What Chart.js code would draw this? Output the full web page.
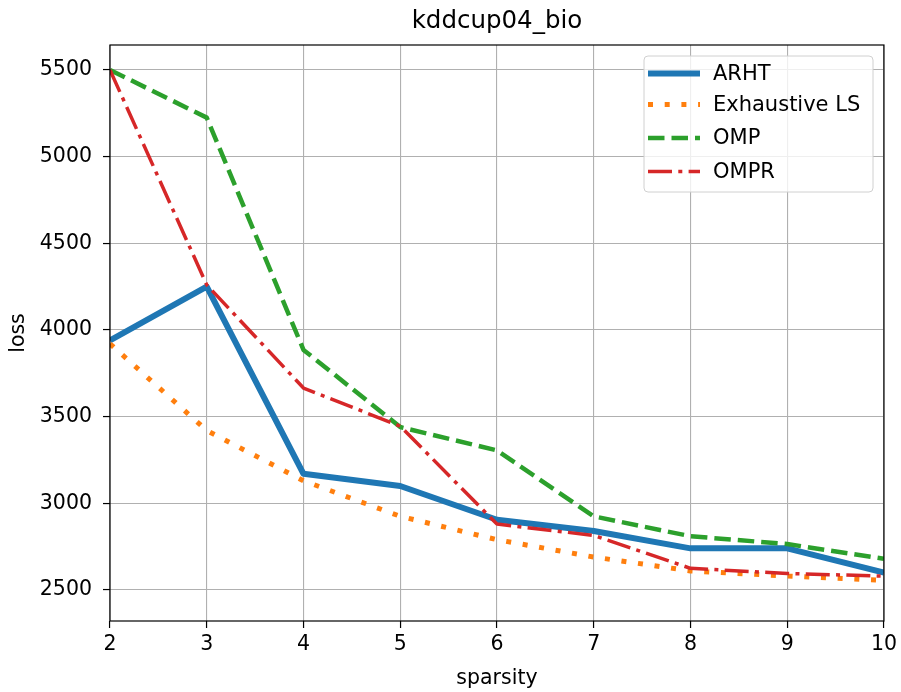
<!DOCTYPE html>
<html>
<head>
<meta charset="utf-8">
<script src="https://cdn.jsdelivr.net/npm/chart.js@4/dist/chart.umd.min.js"></script>
<style>
  html, body { margin: 0; padding: 0; background: #fff; }
  #wrap { width: 901px; height: 692px; }
</style>
</head>
<body>
<div id="wrap"><canvas id="c" width="901" height="692"></canvas></div>
<script>
// ---- data ----
const chartTitle = "kddcup04_bio";
const xLabel = "sparsity";
const yLabel = "loss";
const sparsity = [2, 3, 4, 5, 6, 7, 8, 9, 10];
const seriesNames = ["ARHT", "Exhaustive LS", "OMP", "OMPR"];
const arht       = [3940, 4250, 3170, 3100, 2905, 2840, 2740, 2740, 2600];
const exhaustive = [3920, 3420, 3130, 2925, 2790, 2690, 2610, 2580, 2555];
const omp        = [5500, 5225, 3885, 3440, 3305, 2925, 2810, 2765, 2680];
const ompr       = [5500, 4260, 3665, 3445, 2880, 2815, 2625, 2595, 2580];
const yTicks = [2500, 3000, 3500, 4000, 4500, 5000, 5500];
const xTicks = [2, 3, 4, 5, 6, 7, 8, 9, 10];

const FONT = "'DejaVu Sans', sans-serif";
const toPts = arr => arr.map((v, i) => ({ x: sparsity[i], y: v }));

const styles = [
  { color: '#1f77b4', width: 6, dash: [] },
  { color: '#ff7f0e', width: 5, dash: [5, 11.7] },
  { color: '#2ca02c', width: 4.5, dash: [16.5, 7] },
  { color: '#d62728', width: 3.5, dash: [24, 6.3, 4, 6.3] },
];
const values = [arht, exhaustive, omp, ompr];

const datasets = values.map((vals, i) => ({
  label: seriesNames[i],
  data: toPts(vals),
  borderColor: styles[i].color,
  backgroundColor: styles[i].color,
  borderWidth: styles[i].width,
  borderDash: styles[i].dash,
  borderCapStyle: 'butt',
  borderJoinStyle: 'round',
  pointRadius: 0,
  tension: 0,
  fill: false,
  order: values.length - i
}));

const decor = {
  id: 'decor',
  afterDatasetsDraw(chart) {
    const ctx = chart.ctx;
    const a = chart.chartArea;
    ctx.save();
    // frame
    ctx.strokeStyle = '#000';
    ctx.lineWidth = 1.2;
    ctx.setLineDash([]);
    ctx.strokeRect(a.left, a.top, a.right - a.left, a.bottom - a.top);
    // title
    ctx.fillStyle = '#000';
    ctx.font = "24.5px " + FONT;
    ctx.textAlign = 'center';
    ctx.textBaseline = 'alphabetic';
    ctx.fillText(chartTitle, (a.left + a.right) / 2, 28);
    // legend
    const bx = 644, by = 56, bw = 229, bh = 136, r = 4;
    ctx.beginPath();
    ctx.moveTo(bx + r, by);
    ctx.arcTo(bx + bw, by, bx + bw, by + bh, r);
    ctx.arcTo(bx + bw, by + bh, bx, by + bh, r);
    ctx.arcTo(bx, by + bh, bx, by, r);
    ctx.arcTo(bx, by, bx + bw, by, r);
    ctx.closePath();
    ctx.fillStyle = 'rgba(255,255,255,0.8)';
    ctx.fill();
    ctx.strokeStyle = '#d0d0d0';
    ctx.lineWidth = 1;
    ctx.stroke();
    const rows = [73.5, 104.5, 138, 171.5];
    chart.data.datasets.forEach((ds, i) => {
      const y = rows[i];
      ctx.beginPath();
      ctx.setLineDash(ds.borderDash || []);
      ctx.lineDashOffset = 0;
      ctx.lineCap = 'butt';
      ctx.strokeStyle = ds.borderColor;
      ctx.lineWidth = ds.borderWidth;
      ctx.moveTo(648, y);
      ctx.lineTo(700, y);
      ctx.stroke();
      ctx.setLineDash([]);
      ctx.fillStyle = '#000';
      ctx.font = "21px " + FONT;
      ctx.textAlign = 'left';
      ctx.textBaseline = 'middle';
      ctx.fillText(ds.label, 713, y + 1);
    });
    ctx.restore();
  }
};

new Chart(document.getElementById('c'), {
  type: 'line',
  data: { datasets },
  options: {
    responsive: false,
    animation: false,
    devicePixelRatio: 1,
    layout: { padding: { top: 45, right: 17, left: 0, bottom: 0 } },
    plugins: {
      legend: { display: false },
      title: { display: false },
      tooltip: { enabled: false }
    },
    scales: {
      x: {
        type: 'linear',
        min: 2, max: 10,
        afterBuildTicks: s => { s.ticks = xTicks.map(v => ({ value: v })); },
        afterFit: s => { s.height = 71; },
        ticks: { color: '#000', font: { family: FONT, size: 20.5 }, padding: 4, maxRotation: 0, callback: v => String(v) },
        grid: { color: '#b0b0b0', lineWidth: 1.1, tickLength: 7, tickColor: '#000', tickWidth: 1.2 },
        border: { display: false },
        title: { display: true, text: xLabel, color: '#000', font: { family: FONT, size: 20.5 }, padding: { top: 0, bottom: 1 } }
      },
      y: {
        type: 'linear',
        min: 2321, max: 5644,
        afterBuildTicks: s => { s.ticks = yTicks.map(v => ({ value: v })); },
        afterFit: s => { s.width = 110; },
        ticks: { color: '#000', font: { family: FONT, size: 20.5 }, padding: 11, callback: v => String(v) },
        grid: { color: '#b0b0b0', lineWidth: 1.1, tickLength: 7, tickColor: '#000', tickWidth: 1.2 },
        border: { display: false },
        title: { display: true, text: yLabel, color: '#000', font: { family: FONT, size: 20.5 }, padding: { top: 6, bottom: 0 } }
      }
    }
  },
  plugins: [decor]
});
</script>
</body>
</html>
